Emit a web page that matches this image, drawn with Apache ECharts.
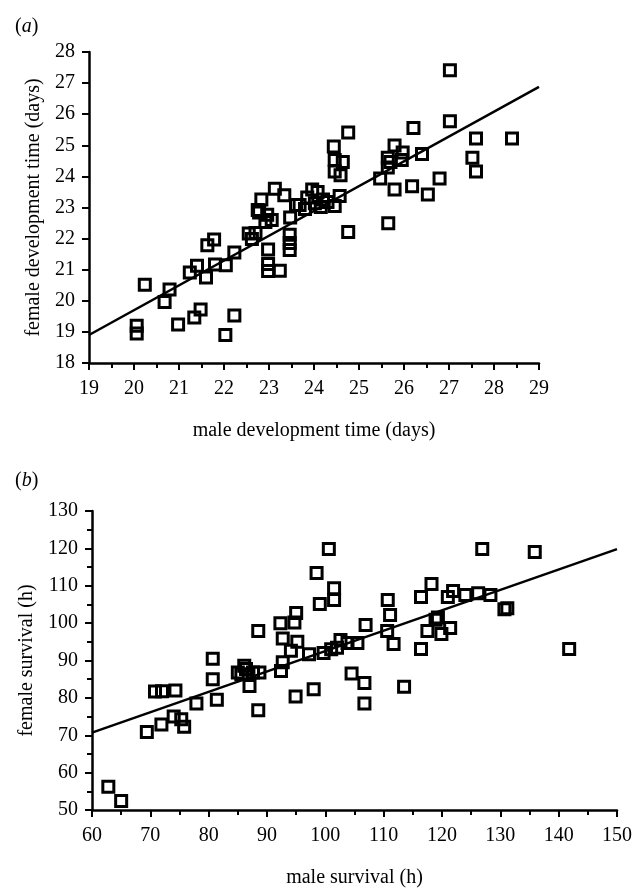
<!DOCTYPE html>
<html>
<head>
<meta charset="utf-8">
<script src="https://cdn.jsdelivr.net/npm/echarts@6/dist/echarts.min.js"></script>
<style>
html,body{margin:0;padding:0;background:#fff;}
#chart{width:643px;height:889px;}
</style>
</head>
<body>
<div id="chart"></div>
<script>
// Panel (a): development time (days)
var devMale = [20.06,20.06,20.24,20.68,20.79,20.98,21.34,21.48,22.03,22.23,
  21.24,21.4,21.6,21.63,21.78,21.8,22.04,22.23,22.55,22.62,
  22.78,22.83,22.92,23.13,23.34,22.98,22.98,22.98,23.24,
  23.46,23.46,23.46,23.47,23.06,22.7,22.96,22.75,
  23.6,23.68,23.8,23.85,23.96,24.08,24.2,24.02,24.3,24.46,24.15,
  24.76,24.44,24.46,24.64,24.46,24.59,24.57,24.76,
  25.47,25.64,25.7,25.64,25.79,25.97,25.95,26.21,26.4,
  25.79,25.65,26.18,26.53,26.79,
  27.02,27.02,27.6,28.4,27.52,27.6];
var devFemale = [19.2,18.95,20.52,19.96,20.36,19.24,19.46,19.72,18.9,19.53,
  20.91,21.13,20.75,21.79,21.97,21.17,21.14,21.55,22.16,21.99,
  22.84,23.26,22.53,23.6,23.39,21.65,21.18,20.96,20.97,
  22.12,21.86,21.63,22.68,22.6,22.18,22.77,22.92,
  23.08,23.08,22.95,23.32,23.58,23.5,23.26,23.14,23.18,23.05,23.02,
  25.41,24.96,24.53,24.46,24.16,24.04,23.37,22.21,
  23.93,24.29,24.46,24.6,24.99,24.77,24.53,25.56,24.72,
  23.58,22.49,23.68,23.42,23.93,
  27.41,25.77,25.22,25.22,24.6,24.16];
var devFitX = [19, 29];
var devFitY = [18.9, 26.88];

// Panel (b): survival (h)
var survMale = [62.8,65,69.4,71.9,70.8,72,74.3,74,75.3,75.8,77.9,
  80.7,80.7,81.4,
  85,86.4,85.6,87.6,88.7,87,88.5,88.5,86.1,
  92.4,92.7,94.9,92.3,94.7,92.7,95.2,94.1,97.2,98,95,
  98.5,100.6,101.5,101.5,99.05,
  99.7,102,103.8,105.5,102.6,101,
  104.5,106.7,106.7,106.9,
  110.7,111.1,110.6,111.7,113.5,
  116.4,118.2,116.4,117.5,118.9,119.9,121.4,119.3,
  121,121.9,124,126.2,128.3,126.9,
  130.7,131.2,135.9,141.8];
var survFemale = [56.2,52.4,70.9,72.9,81.7,81.8,82,75,74.3,72.3,78.5,
  90.5,85,79.5,
  86.8,87.7,86.3,86.8,86.8,83.2,76.7,97.9,88.6,
  87.2,89.5,80.4,100,100.2,95.9,95,92.6,91.7,82.3,102.7,
  113.4,119.8,109.3,106.2,105.1,
  92,93.4,94.7,94.7,95.5,93,
  86.5,84,78.5,99.5,
  106.2,102.2,97.9,94.4,83,
  107,110.5,93.1,97.9,100.9,97.1,98.7,101.5,
  107,108.6,107.5,108,107.5,119.8,
  103.7,104,119,93.1];
var survFitX = [60, 150];
var survFitY = [70.7, 119.8];

// Tick labels
var devTicksX = [19,20,21,22,23,24,25,26,27,28,29];
var devTicksY = [18,19,20,21,22,23,24,25,26,27,28];
var survTicksX = [60,70,80,90,100,110,120,130,140,150];
var survTicksY = [50,60,70,80,90,100,110,120,130];

function zip(a, b) { return a.map(function (v, i) { return [v, b[i]]; }); }

var FONT = 'Liberation Serif';
function axisBase(extra) {
  var o = {
    axisLine: { onZero: false, lineStyle: { color: '#000', width: 2.5 } },
    axisTick: { show: true, inside: false, length: 7, lineStyle: { color: '#000', width: 2 } },
    minorTick: { show: true, splitNumber: 2, length: 5, lineStyle: { color: '#000', width: 2 } },
    splitLine: { show: false },
    axisLabel: { color: '#000', fontFamily: FONT, fontSize: 20 },
    nameTextStyle: { color: '#000', fontFamily: FONT, fontSize: 20 },
    nameLocation: 'middle'
  };
  for (var k in extra) o[k] = extra[k];
  return o;
}

var chart = echarts.init(document.getElementById('chart'), null, { renderer: 'canvas' });
var sym = {
  type: 'scatter', symbol: 'rect', symbolSize: 11,
  itemStyle: { color: 'rgba(0,0,0,0)', borderColor: '#000', borderWidth: 3 }
};
function scatter(xi, data) {
  return {
    type: 'scatter', xAxisIndex: xi, yAxisIndex: xi, data: data,
    symbol: 'rect', symbolSize: 11, silent: true,
    itemStyle: { color: 'rgba(0,0,0,0)', borderColor: '#000', borderWidth: 3, opacity: 1 },
    z: 3
  };
}
function fitLine(xi, data) {
  return {
    type: 'line', xAxisIndex: xi, yAxisIndex: xi, data: data,
    showSymbol: false, symbol: 'none', silent: true,
    lineStyle: { color: '#000', width: 2.5 }, z: 2
  };
}

chart.setOption({
  animation: false,
  backgroundColor: '#fff',
  title: [
    { text: '({a|a})', left: 10, top: 12,
      textStyle: { fontFamily: FONT, fontSize: 20, fontWeight: 'normal', color: '#000',
        rich: { a: { fontFamily: FONT, fontSize: 20, fontStyle: 'italic', color: '#000' } } } },
    { text: '({b|b})', left: 10, top: 466,
      textStyle: { fontFamily: FONT, fontSize: 20, fontWeight: 'normal', color: '#000',
        rich: { b: { fontFamily: FONT, fontSize: 20, fontStyle: 'italic', color: '#000' } } } }
  ],
  grid: [
    { left: 89, top: 52, width: 450, height: 311 },
    { left: 92, top: 511, width: 525, height: 300 }
  ],
  xAxis: [
    axisBase({ gridIndex: 0, type: 'value', min: devTicksX[0], max: devTicksX[devTicksX.length - 1], interval: 1,
      name: 'male development time (days)', nameGap: 58,
      axisLabel: { color: '#000', fontFamily: FONT, fontSize: 20, margin: 16 } }),
    axisBase({ gridIndex: 1, type: 'value', min: survTicksX[0], max: survTicksX[survTicksX.length - 1], interval: 10,
      name: 'male survival (h)', nameGap: 58,
      axisLabel: { color: '#000', fontFamily: FONT, fontSize: 20, margin: 16 } })
  ],
  yAxis: [
    axisBase({ gridIndex: 0, type: 'value', min: devTicksY[0], max: devTicksY[devTicksY.length - 1], interval: 1,
      minorTick: { show: false },
      name: 'female development time (days)', nameGap: 44,
      axisLabel: { color: '#000', fontFamily: FONT, fontSize: 20, margin: 14 } }),
    axisBase({ gridIndex: 1, type: 'value', min: survTicksY[0], max: survTicksY[survTicksY.length - 1], interval: 10,
      name: 'female survival (h)', nameGap: 52,
      axisLabel: { color: '#000', fontFamily: FONT, fontSize: 20, margin: 14 } })
  ],
  series: [
    fitLine(0, zip(devFitX, devFitY)),
    scatter(0, zip(devMale, devFemale)),
    fitLine(1, zip(survFitX, survFitY)),
    scatter(1, zip(survMale, survFemale))
  ]
});
</script>
</body>
</html>
